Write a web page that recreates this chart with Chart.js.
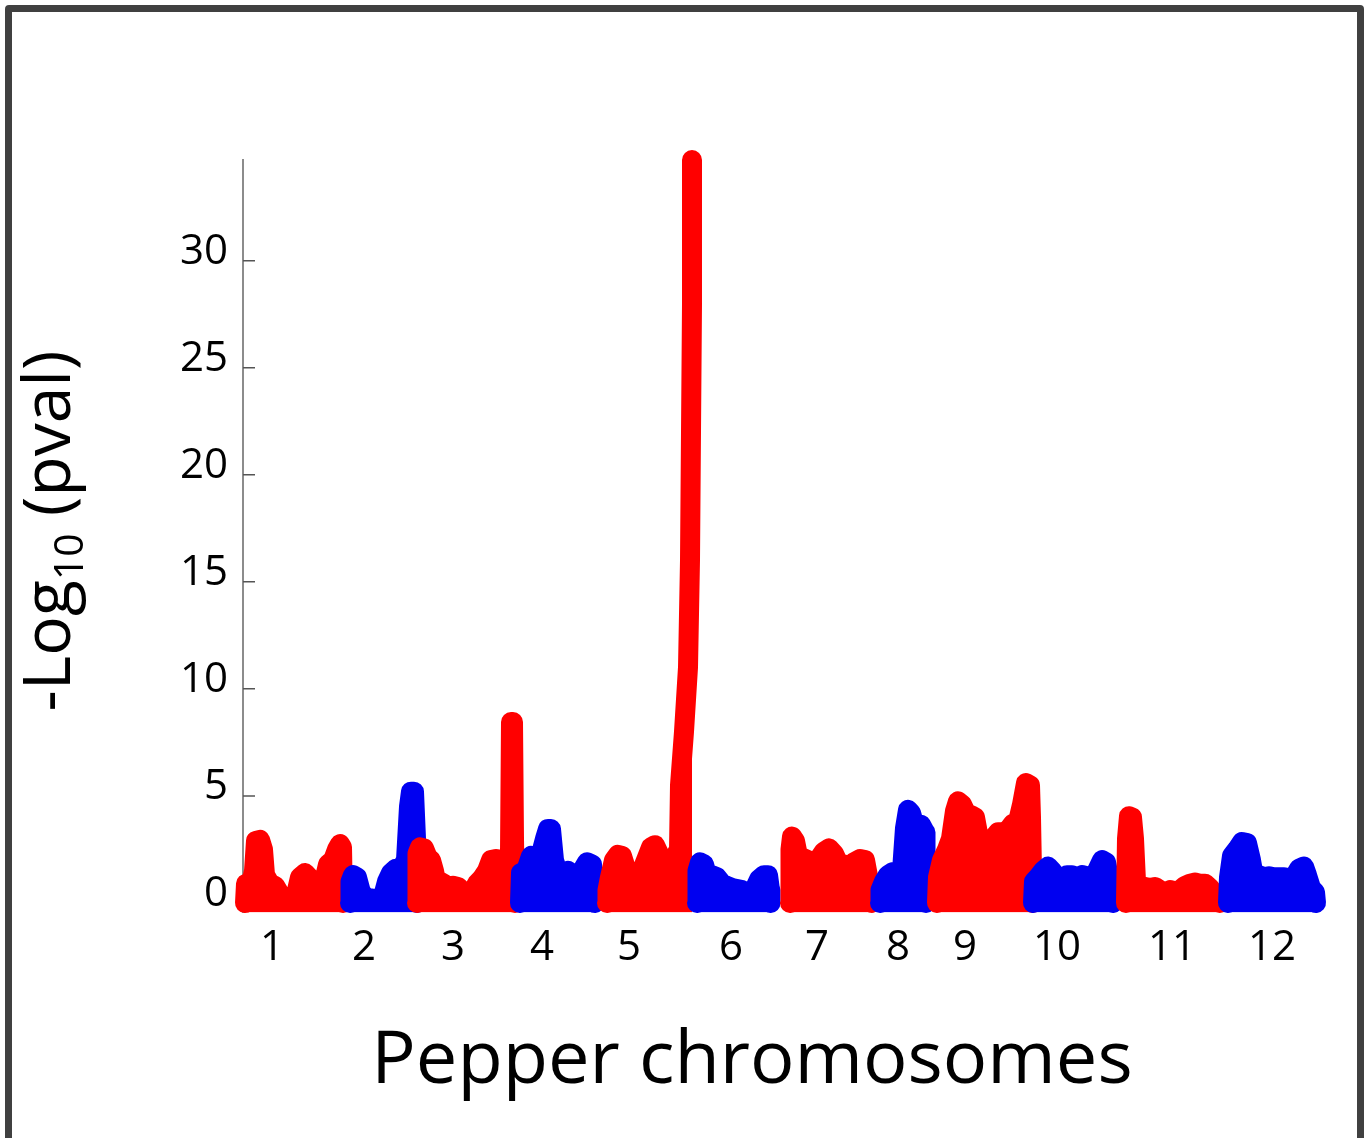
<!DOCTYPE html>
<html>
<head>
<meta charset="utf-8">
<title>Pepper chromosomes</title>
<script src="https://cdn.jsdelivr.net/npm/chart.js@4.4.1/dist/chart.umd.min.js"></script>
<style>
  html, body { margin: 0; padding: 0; background: #fff; }
  #wrap { position: relative; width: 1368px; height: 1138px; overflow: hidden; }
  #frame { position: absolute; left: 5px; top: 5px; width: 1359px; height: 1140px; box-sizing: border-box;
           border: 7px solid #404040; border-radius: 4px; pointer-events: none; }
</style>
</head>
<body>
<div id="wrap">
  <canvas id="manhattan" width="1368" height="1138"></canvas>
  <div id="frame"></div>
</div>
<script>
// x = position along the genome (plot units), y = -log10(pval)
// x must never go backwards inside a chromosome, or the fill goes wrong
const chr1 = [[2,0],[3,0.9],[7,0.7],[11,1.5],[13,2.9],[17,2.95],[20,2.5],[22,1.3],[27,0.9],[32,0.8],[37,0.4],[42,0.2],[47,0.1],[52,0.2],[57,1.2],[62,1.4],[66,1.2],[70,0.5],[75,0.5],[80,0.8],[85,1.8],[90,2.0],[94,2.5],[97,2.75],[99,2.6],[100,0]];
const chr2 = [[107,0],[107.5,1.0],[110,1.3],[114,1.2],[118,0.5],[123,0.25],[129,0.2],[135,0.2],[140,0.3],[144,1.0],[148,1.4],[153,1.6],[158,1.6],[163,2.0],[166,4.5],[168,5.2],[171,5.2],[173,3.0],[174,0]];
const chr3 = [[174,0],[174.5,2.3],[177,2.6],[181,2.55],[185,2.1],[188,2.0],[191,1.5],[193,1.0],[197,1.0],[201,0.9],[205,0.75],[210,0.8],[215,0.75],[220,0.5],[225,0.4],[229,0.5],[234,0.9],[239,1.15],[244,1.5],[248,2.0],[253,2.05],[258,2.0],[264,2.1],[267,2.4],[268,8.45],[270,8.45],[271,3.0],[272,0]];
const chr4 = [[277,0],[278,1.4],[283,1.5],[288,2.2],[293,1.8],[298,2.3],[302,3.0],[305,3.45],[308,3.45],[311,2.0],[315,1.4],[320,1.4],[325,1.5],[330,1.1],[334,0.8],[339,1.5],[344,1.9],[349,1.8],[351,0.8],[352,0]];
const chr5 = [[364,0],[364.5,0.6],[367,1.2],[371,2.0],[375,2.25],[379,2.2],[383,1.6],[388,1.3],[393,1.35],[398,1.4],[403,2.0],[408,2.6],[412,2.7],[416,2.3],[420,2.0],[425,2.0],[430,2.0],[436,2.5],[437,5.5],[441,8.0],[445,11.0],[447,16.0],[448,22.0],[449,28.0],[449,34.7]];
const chr6 = [[454,0],[454.5,1.5],[457,1.9],[461,1.8],[464,1.3],[469,1.3],[474,1.2],[479,0.9],[484,0.8],[489,0.7],[494,0.65],[499,0.6],[504,0.5],[508,0.45],[512,0.7],[516,1.1],[521,1.3],[525,1.3],[527,0.6],[527.5,0]];
const chr7 = [[547,0],[547.5,2.5],[549,3.1],[552,2.9],[555,2.2],[560,2.1],[565,2.0],[570,1.9],[575,2.0],[581,2.4],[586,2.55],[591,2.3],[596,1.8],[601,1.8],[606,1.7],[611,1.9],[617,2.05],[622,2.0],[626,1.0],[628,0.3],[629,0]];
const chr8 = [[637,0],[637.5,0.6],[641,1.0],[645,1.3],[650,1.45],[655,1.45],[659,1.5],[662,3.5],[665,4.35],[668,4.2],[671,3.7],[675,3.6],[678,3.65],[682,3.3],[682.5,1.8],[683,0]];
const chr9 = [[694,0],[695,1.2],[699,2.0],[704,2.5],[708,3.0],[712,4.3],[715,4.75],[719,4.6],[723,4.2],[728,4.1],[732,4.0],[736,3.0],[740,2.4],[745,2.5],[750,3.0],[755,3.3],[760,3.3],[765,3.4],[770,3.7],[775,3.8],[779,4.6],[783,5.6],[787,5.5],[788,4.0],[789,1.5],[789.5,0]];
const chr10 = [[790,0],[791,1.0],[795,1.2],[800,1.5],[805,1.7],[809,1.5],[814,1.2],[819,1.1],[824,1.3],[829,1.3],[834,1.2],[839,1.3],[844,1.25],[849,1.2],[854,1.5],[859,2.0],[863,1.9],[866,1.2],[869,0.6],[870,0]];
const chr11 = [[883,0],[884,3.0],[886,4.05],[889,4.0],[891,3.0],[893,1.0],[897,0.8],[902,0.75],[907,0.7],[912,0.75],[917,0.6],[922,0.5],[927,0.6],[932,0.55],[937,0.6],[942,0.8],[947,0.9],[952,0.95],[957,0.9],[962,0.9],[967,0.7],[972,0.3],[975,0.1],[977,0]];
const chr12 = [[985,0],[986,1.2],[989,2.2],[994,2.5],[999,2.85],[1004,2.8],[1008,2.0],[1011,1.2],[1016,1.3],[1021,1.2],[1026,1.25],[1031,1.2],[1036,1.2],[1041,1.2],[1046,1.15],[1051,1.2],[1056,1.6],[1061,1.7],[1064,1.3],[1068,0.7],[1072,0.5],[1073,0]];

const chromosomes = [chr1, chr2, chr3, chr4, chr5, chr6, chr7, chr8, chr9, chr10, chr11, chr12];
const chromLabels = ['1', '2', '3', '4', '5', '6', '7', '8', '9', '10', '11', '12'];
const labelPos = [29, 121, 210, 299, 386, 488, 574, 655, 722, 814, 929, 1029];
const axisMarks = [407, 590, 740, 836, 932, 1029];
const yTickVals = [0, 5, 10, 15, 20, 25, 30];
const chromColors = ['#ff0000', '#0000f0'];

Chart.defaults.font.family = '"Open Sans", sans-serif';
Chart.defaults.color = '#000';

// axis line at 0, small inward ticks and the two titles
const decor = {
  id: 'decor',
  beforeDatasetsDraw(chart) {
    const {ctx, chartArea, scales: {x, y}} = chart;
    const y0 = y.getPixelForValue(0);
    ctx.save();
    ctx.strokeStyle = '#555';
    ctx.lineWidth = 1.5;
    ctx.beginPath();
    ctx.moveTo(chartArea.left, y0);
    ctx.lineTo(chartArea.right, y0);
    axisMarks.forEach(function (v) {
      const px = x.getPixelForValue(v);
      ctx.moveTo(px, y0);
      ctx.lineTo(px, y0 - 10);
    });
    yTickVals.forEach(function (v) {
      const py = y.getPixelForValue(v);
      ctx.moveTo(chartArea.left, py);
      ctx.lineTo(chartArea.left + 12, py);
    });
    ctx.stroke();
    ctx.restore();
  },
  afterDraw(chart) {
    const ctx = chart.ctx;
    ctx.save();
    ctx.fillStyle = '#000';
    ctx.textBaseline = 'alphabetic';

    // y title, with subscript
    const big = '66px "Open Sans"', small = '41px "Open Sans"';
    ctx.font = big;
    const w1 = ctx.measureText('-Log').width;
    const w3 = ctx.measureText(' (pval)').width;
    ctx.font = small;
    const w2 = ctx.measureText('10').width;
    ctx.translate(70, 531);
    ctx.rotate(-Math.PI / 2);
    const sx = -(w1 + w2 + w3) / 2;
    ctx.textAlign = 'left';
    ctx.font = big;
    ctx.fillText('-Log', sx, 0);
    ctx.font = small;
    ctx.fillText('10', sx + w1, 13);
    ctx.font = big;
    ctx.fillText(' (pval)', sx + w1 + w2, 0);
    ctx.restore();

    // x title
    ctx.save();
    ctx.fillStyle = '#000';
    ctx.font = '74px "Open Sans"';
    ctx.textAlign = 'center';
    ctx.textBaseline = 'alphabetic';
    ctx.fillText('Pepper chromosomes', 752, 1083);
    ctx.restore();
  }
};

const ctx = document.getElementById('manhattan');
new Chart(ctx, {
  type: 'scatter',
  data: {
    datasets: chromosomes.map(function (pts, i) {
      const col = chromColors[i % 2];
      return {
        label: 'Chr ' + chromLabels[i],
        data: pts.map(function (p) { return {x: p[0], y: p[1]}; }),
        showLine: true,
        tension: 0,
        fill: 'start',
        backgroundColor: col,
        borderColor: col,
        borderWidth: 20,
        borderJoinStyle: 'round',
        borderCapStyle: 'round',
        pointRadius: 0,
        pointHoverRadius: 0,
        clip: false,
        order: 12 - i
      };
    })
  },
  options: {
    responsive: false,
    animation: false,
    events: [],
    layout: { padding: { top: 160, right: 48, bottom: 0, left: 0 } },
    plugins: {
      legend: { display: false },
      tooltip: { enabled: false },
      title: { display: false }
    },
    scales: {
      x: {
        type: 'linear',
        min: 0,
        max: 1077,
        grid: { display: false, drawTicks: false },
        border: { display: false },
        afterBuildTicks: function (scale) {
          scale.ticks = labelPos.map(function (v) { return {value: v}; });
        },
        afterFit: function (scale) { scale.height = 225.4; },
        ticks: {
          autoSkip: false,
          maxRotation: 0,
          padding: 10,
          font: { size: 42 },
          color: '#000',
          callback: function (v, i) { return chromLabels[i]; }
        }
      },
      y: {
        type: 'linear',
        min: -0.45,
        max: 34.7,
        grid: { display: false, drawTicks: false },
        border: { display: true, color: '#8c8c8c', width: 2 },
        afterBuildTicks: function (scale) {
          scale.ticks = yTickVals.map(function (v) { return {value: v}; });
        },
        afterFit: function (scale) { scale.width = 243; },
        ticks: {
          padding: 15,
          labelOffset: -9,
          font: { size: 42 },
          color: '#000'
        }
      }
    }
  },
  plugins: [decor]
});
</script>
</body>
</html>
